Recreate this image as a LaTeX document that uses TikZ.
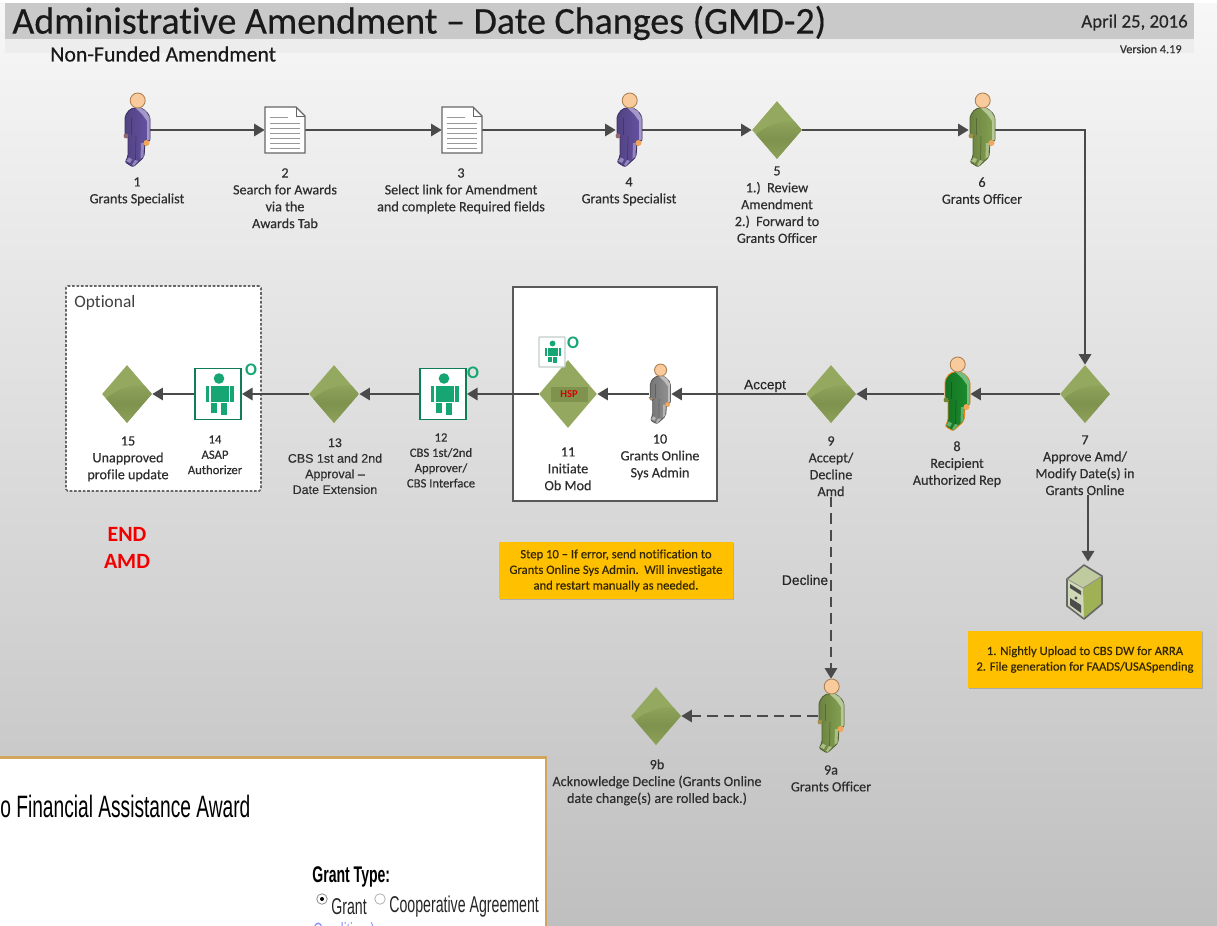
\documentclass[tikz,border=0pt]{standalone}
\usepackage{fontspec}
\usepackage{xcolor}
\setmainfont[Ligatures=CommonOff]{Carlito}
\newfontfamily\labelfont[FakeBold=0.35,Ligatures=CommonOff]{Carlito}
\newfontfamily\arialfont[FakeBold=0.25]{Liberation Sans}
\newfontfamily\narrowfont[FakeStretch=0.62]{Liberation Sans}
\usetikzlibrary{arrows.meta,shapes.geometric,shadows}
\definecolor{flowgray}{HTML}{4A4A4A}
\definecolor{labelgray}{HTML}{2E2E2E}
\definecolor{barfill}{HTML}{C9C9C9}
\definecolor{gemlight}{HTML}{94A95F}
\definecolor{gemdark}{HTML}{7F924E}
\definecolor{personpurple}{HTML}{6653A3}
\definecolor{personolive}{HTML}{86A352}
\definecolor{persongreen}{HTML}{1B8F2D}
\definecolor{persongray}{HTML}{939393}
\definecolor{systemgreen}{HTML}{16A673}
\definecolor{noteorange}{HTML}{FFC000}
\definecolor{panelborder}{HTML}{D2A65C}
\tikzset{
  flow/.style={draw=flowgray, line width=1.2pt, -{Triangle[length=6pt,width=7pt]}},
  dashflow/.style={flow, dash pattern=on 6pt off 3.5pt},
  steptext/.style={font=\labelfont\fontsize{8.05}{9.6}\selectfont, text=labelgray, align=center, inner sep=0pt, anchor=north},
  smalltext/.style={steptext, font=\labelfont\fontsize{7.2}{8.7}\selectfont},
  arialtext/.style={steptext, font=\arialfont\fontsize{7.1}{8.9}\selectfont},
  personnode/.style={minimum width=0.52cm, minimum height=1.48cm, inner sep=0pt},
  docnode/.style={minimum width=0.8cm, minimum height=0.92cm, inner sep=0pt},
  systemnode/.style={draw=systemgreen!75!black, line width=1.1pt, fill=white, minimum width=0.92cm, minimum height=1.02cm, inner sep=0pt},
  servernode/.style={minimum width=0.7cm, minimum height=1.08cm, inner sep=0pt},
  gem/.style={diamond, fill=gemlight, inner sep=0pt, minimum width=1cm, minimum height=1.16cm,
    path picture={
      \begin{scope}[shift={(path picture bounding box.center)}]
        \shade[top color=gemlight!80!gemdark, bottom color=gemlight!70!gemdark, middle color=gemdark] (-26,9) .. controls (-10,-7) and (8,-11) .. (26,-7) -- (26,30) -- (-26,30) -- cycle;
      \end{scope}}},
  notebox/.style={fill=noteorange, font=\labelfont\fontsize{7.2}{8.9}\selectfont, text=black!80!noteorange, align=center, inner sep=0pt, drop shadow={shadow xshift=0.7pt, shadow yshift=-0.7pt, opacity=0.45}},
  optionmark/.style={font=\bfseries\fontsize{10}{10}\selectfont, text=systemgreen, inner sep=0pt},
  pics/personicon/.style 2 args={code={
    \shadedraw[left color=#1!80!black, right color=#1, draw=#2, line width=0.5pt, rounded corners=1.2pt] (-12,-14) -- (-7,-21) -- (2,-23) -- (9,-19) -- (13,-13) -- (13,11) -- (8,13) -- (7,27) -- (-4,37) -- (-12,32) -- (-9,27) -- (-9,6) -- (-12,5) -- cycle;
    \fill[#1!60!white] (-2,-22.5) -- (3,-22.5) -- (9,-18.5) -- (12.5,-12.5) -- (12.5,10) -- (10,10) -- (10,-9) -- (5,-16) -- cycle;
    \draw[#1!65!black, line width=0.4pt] (-1,6) -- (-1.5,30);
    \draw[#1!65!black, line width=0.4pt] (-6,-12) -- (-6,5);
    \fill[#1!70!white] (7,13) -- (6.5,26.5) -- (3.5,29) -- (4,13) -- cycle;
    \fill[#1!70!white] (-11,31) -- (-8,27.5) -- (-5,29.5) -- (-7,33) -- cycle;
    \fill[#1!70!white] (-5,35) -- (-2,30) -- (1,31) -- (-3,36) -- cycle;
    \fill[#1!50!brown] (-11,6) circle (2.4);
    \fill[orange!70!brown!70!white] (9.5,13) circle (3);
    \fill[orange!35!white!90!brown, draw=brown!70!gray, line width=0.5pt] (0.7,-29.5) circle (7.5);
  }},
  pics/docicon/.style={code={
    \fill[white, draw=black!60, line width=0.7pt] (-20,-23) -- (11,-23) -- (20,-14) -- (20,23) -- (-20,23) -- cycle;
    \draw[black!60, line width=0.5pt] (11,-23) -- (11,-14) -- (20,-14);
    \draw[black!40, line width=0.5pt] (-15,-13) -- (3,-13);
    \draw[black!40, line width=0.5pt] (-15,-7) -- (15,-7);
    \draw[black!40, line width=0.5pt] (-15,-2) -- (15,-2);
    \draw[black!40, line width=0.5pt] (-15,3) -- (15,3);
    \draw[black!40, line width=0.5pt] (-15,8) -- (15,8);
    \draw[black!40, line width=0.5pt] (-15,13) -- (15,13);
    \draw[black!40, line width=0.5pt] (-15,18) -- (15,18);
  }},
  pics/systemicon/.style={code={
    \fill[systemgreen] (1,-15.5) circle (5.3);
    \fill[systemgreen] (-7.3,-8) rectangle (11,7.5);
    \fill[systemgreen] (-12.5,-8) rectangle (-8.7,7.5);
    \fill[systemgreen] (12.3,-8) rectangle (16,7.5);
    \fill[systemgreen] (-7.3,8.5) rectangle (-0.7,19);
    \fill[systemgreen] (2.7,8.5) rectangle (8.7,20.5);
  }},
  pics/servericon/.style={code={
    \fill[gemlight!45!white] (-18,-12) -- (-2,-3) -- (-1,28) -- (-18,15) -- cycle;
    \fill[gemlight!90!yellow] (-2,-3) -- (17,-15) -- (17,13) -- (-1,28) -- cycle;
    \fill[gemlight!60!white] (-18,-12) -- (-1,-26) -- (17,-15) -- (-2,-3) -- cycle;
    \draw[black!60, line width=0.9pt, line join=round] (-18,-12) -- (-1,-26) -- (17,-15) -- (17,13) -- (-1,28) -- (-18,15) -- cycle;
    \draw[black!45, line width=0.4pt] (-18,-12) -- (-2,-3) -- (17,-15);
    \fill[black!70] (-15,-7) -- (-4,0) -- (-4,4) -- (-15,-3) -- cycle;
    \fill[black!70] (-15,7) -- (-4,14) -- (-4,22) -- (-15,14) -- cycle;
    \fill[black!70] (-9,7) circle (1.6);
  }}
}
\begin{document}
\begin{tikzpicture}[x=0.02cm, y=-0.02cm]
  \useasboundingbox (0,0) rectangle (1217,926);
  \shade[top color=white!97!black, bottom color=black!25] (0,0) rectangle (1217,926);
  \fill[white] (0,0) rectangle (1217,3);
  \fill[black!7] (5,39) rectangle (1194,53);
  \fill[barfill] (5,3) rectangle (1194,39.5);
  \node[inner sep=0pt, anchor=west, font=\labelfont\fontsize{21.6}{24}\selectfont, text=black!90] (title) at (12,23) {Administrative Amendment – Date Changes (GMD-2)};
  \node[inner sep=0pt, anchor=east, font=\labelfont\fontsize{10.7}{12}\selectfont, text=black!85] (datemark) at (1188,22.5) {April 25, 2016};
  \node[inner sep=0pt, anchor=east, font=\labelfont\fontsize{7}{8}\selectfont, text=black!80] (versionmark) at (1182,49) {Version 4.19};
  \node[inner sep=0pt, anchor=west, font=\labelfont\fontsize{12.4}{14}\selectfont, text=black!90] (subtitle) at (50,54) {Non-Funded Amendment};

  \node[fill=white, draw=black!60, line width=0.9pt, dash pattern=on 1.5pt off 1pt, rounded corners=1pt, minimum width=3.9cm, minimum height=4.1cm, inner sep=0pt] (optionalbox) at (163.5,388.5) {};
  \node[fill=white, draw=black!65, line width=0.9pt, minimum width=4.08cm, minimum height=4.28cm, inner sep=0pt] (obmodbox) at (615,394) {};
  \node[inner sep=0pt, anchor=west, font=\fontsize{9.9}{11}\selectfont, text=black!75] (optionaltext) at (74,303) {Optional};

  \node[personnode] (p1) at (137,130) {};
  \node[docnode] (doc2) at (285,130) {};
  \node[docnode] (doc3) at (462,130) {};
  \node[personnode] (p4) at (629,130) {};
  \node[gem] (d5) at (777,130) {};
  \node[personnode] (p6) at (982,130) {};
  \node[gem] (d7) at (1085,394) {};
  \node[personnode] (p8) at (957,394) {};
  \node[gem] (d9) at (831,394) {};
  \node[personnode, minimum width=0.44cm, minimum height=1.2cm] (p10) at (660,394) {};
  \node[diamond, fill=gemlight, inner sep=0pt, minimum width=1.16cm, minimum height=1.36cm] (d11) at (568,394) {};
  \node[systemnode] (s12) at (443,394) {};
  \node[gem] (d13) at (334,394) {};
  \node[systemnode] (s14) at (218,394) {};
  \node[gem] (d15) at (127,394) {};
  \node[servernode] (srv) at (1085,591) {};
  \node[personnode] (p9a) at (831,716) {};
  \node[gem] (d9b) at (656,716) {};

  \node[steptext] (lab1) at (137,177) {1\\Grants Specialist};
  \node[steptext] (lab2) at (285,168) {2\\Search for Awards\\via the\\Awards Tab};
  \node[steptext] (lab3) at (461,168) {3\\Select link for Amendment\\and complete Required fields};
  \node[steptext] (lab4) at (629,177) {4\\Grants Specialist};
  \node[steptext] (lab5) at (777,166) {5\\1.)~~Review\\Amendment\\2.)~~Forward to\\Grants Officer};
  \node[steptext] (lab6) at (982,177) {6\\Grants Officer};
  \node[steptext] (lab7) at (1085,435) {7\\Approve Amd/\\Modify Date(s) in\\Grants Online};
  \node[steptext] (lab8) at (957,441) {8\\Recipient\\Authorized Rep};
  \node[steptext] (lab9) at (831,436) {9\\Accept/\\Decline\\Amd};
  \node[steptext] (lab10) at (660,434) {10\\Grants Online\\Sys Admin};
  \node[steptext] (lab11) at (568,447) {11\\Initiate\\Ob Mod};
  \node[smalltext] (lab12) at (441,433) {12\\CBS 1st/2nd\\Approver/\\CBS Interface};
  \node[arialtext] (lab13) at (335,438) {13\\CBS 1st and 2nd\\Approval –\\Date Extension};
  \node[smalltext] (lab14) at (215,435) {14\\ASAP\\Authorizer};
  \node[steptext] (lab15) at (128,436) {15\\Unapproved\\profile update};
  \node[steptext] (lab9a) at (831,765) {9a\\Grants Officer};
  \node[steptext] (lab9b) at (657,759) {9b\\Acknowledge Decline (Grants Online\\date change(s) are rolled back.)};

  \node[inner sep=0pt, align=center, font=\bfseries\fontsize{12.4}{15.8}\selectfont, text=red!95!black] (endmark) at (127,548) {END\\AMD};
  \node[notebox, minimum width=4.68cm, minimum height=1.14cm] (note10) at (616,570.5) {Step 10 \textbf{–} If error, send notification to\\Grants Online Sys Admin.~~Will investigate\\and restart manually as needed.};
  \node[notebox, minimum width=4.68cm, minimum height=1.14cm] (noteupload) at (1085,659.5) {1. Nightly Upload to CBS DW for ARRA\\2. File generation for FAADS/USASpending};

  \draw[flow] (p1.east) -- (doc2.west);
  \draw[flow] (doc2.east) -- (doc3.west);
  \draw[flow] (doc3.east) -- (p4.west);
  \draw[flow] (p4.east) -- (d5.west);
  \draw[flow] (d5.east) -- (p6.west);
  \draw[flow] (p6.east) -| (d7.north);
  \draw[flow] (d7.west) -- (p8.east);
  \draw[flow] (p8.west) -- (d9.east);
  \draw[flow] (d9.west) -- (p10.east);
  \draw[flow] (p10.west) -- (d11.east);
  \draw[flow] (d11.west) -- (s12.east);
  \draw[flow] (s12.west) -- (d13.east);
  \draw[flow] (d13.west) -- (s14.east);
  \draw[flow] (s14.west) -- (d15.east);
  \draw[flow] (lab7.south -| srv.north) ++(3,0) -- ++(0,66);
  \draw[dashflow] (lab9.south) -- (p9a.north);
  \draw[dashflow] (p9a.west) -- (d9b.east);
  \node[inner sep=0pt, font=\arialfont\fontsize{7.8}{9}\selectfont, text=black!85] (acceptlabel) at (765,386) {Accept};
  \node[inner sep=0pt, font=\arialfont\fontsize{7.9}{9}\selectfont, text=black!85] (declinelabel) at (805,580) {Decline};

  \pic at (p1) {personicon={personpurple}{personpurple!60!black}};
  \pic at (doc2) {docicon};
  \pic at (doc3) {docicon};
  \pic at (p4) {personicon={personpurple}{personpurple!60!black}};
  \pic at (p6) {personicon={personolive}{personolive!60!black}};
  \pic at (p8) {personicon={persongreen}{orange!70!brown}};
  \pic[scale=0.81] at (p10) {personicon={persongray}{persongray!60!black}};
  \pic at (p9a) {personicon={personolive}{personolive!60!black}};
  \pic at (s12) {systemicon};
  \pic at (s14) {systemicon};
  \pic at (srv) {servericon};

  \fill[gemdark] (551,387) rectangle (588,402);
  \node[inner sep=0pt, font=\bfseries\fontsize{6}{7}\selectfont, text=red!85!black] (hsplabel) at (569,394.5) {HSP};
  \node[draw=systemgreen!35!black!25, line width=0.8pt, fill=white, rounded corners=0.5pt, minimum width=0.52cm, minimum height=0.6cm, inner sep=0pt] (s11) at (552,352) {};
  \pic[scale=0.55] at (s11) {systemicon};
  \node[optionmark] (o11) at (573,343) {O};
  \node[optionmark] (o12) at (473,373) {O};
  \node[optionmark] (o14) at (251,370) {O};

  \fill[white, draw=panelborder, line width=1.4pt] (-5,757.5) rectangle (546,935);
  \node[inner sep=0pt, anchor=west, font=\narrowfont\fontsize{17.6}{19}\selectfont, text=black] (paneltitle) at (0,806) {o Financial Assistance Award};
  \node[inner sep=0pt, anchor=west, font=\narrowfont\bfseries\fontsize{12.9}{14}\selectfont, text=black] (granttype) at (312,877) {Grant Type:};
  \node[circle, draw=black!50, fill=white, line width=0.4pt, minimum size=0.21cm, inner sep=0pt] (radiogrant) at (322,899) {};
  \fill[black] (radiogrant) circle (2);
  \node[inner sep=0pt, anchor=west, font=\narrowfont\fontsize{13}{14}\selectfont, text=black!85] (grantlabel) at (331,907) {Grant};
  \node[circle, draw=black!35, fill=white, line width=0.4pt, minimum size=0.21cm, inner sep=0pt] (radiocoop) at (380,899) {};
  \node[inner sep=0pt, anchor=west, font=\narrowfont\fontsize{13}{14}\selectfont, text=black!85] (cooplabel) at (389,907) {Cooperative Agreement};
  \node[inner sep=0pt, anchor=west, font=\narrowfont\fontsize{11.7}{13}\selectfont, text=blue!45!white] (condlabel) at (313,932) {Condition )};
\end{tikzpicture}
\end{document}
